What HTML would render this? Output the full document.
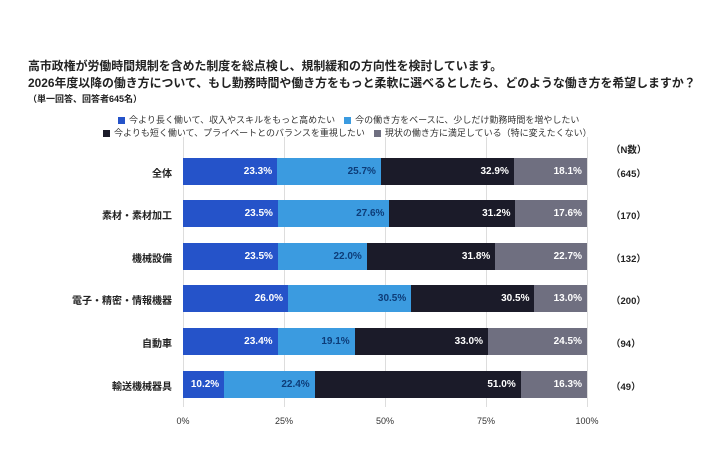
<!DOCTYPE html>
<html><head><meta charset="utf-8"><style>
body{margin:0;width:710px;height:474px;background:#fff;font-family:"Liberation Sans","Noto Sans CJK JP",sans-serif;position:relative;overflow:hidden}
.t{position:absolute;left:28px;font-weight:bold;color:#222;white-space:nowrap}
.lg{position:absolute;font-size:9px;color:#333;white-space:nowrap}
.sq{display:inline-block;width:7px;height:7px;margin-right:4px;vertical-align:-1px}
.row{position:absolute;left:183px;width:404px;height:27px;display:flex}
.seg{height:100%;font-size:10px;color:#fff;text-align:right;box-sizing:border-box;padding-right:5px;line-height:27px;font-weight:bold}
.c1{background:#2553c9}.c2{background:#3b9be0;color:#0d3c78}.c3{background:#1b1b29}.c4{background:#6f6f80}
.lab{position:absolute;right:538px;font-size:10px;color:#222;font-weight:bold;white-space:nowrap}
.n{position:absolute;left:611px;font-size:9.5px;color:#222;font-weight:bold}
.g{position:absolute;top:137px;height:270px;width:1px;background:#ddd}
.ax{position:absolute;top:416px;font-size:9px;color:#333;transform:translateX(-50%)}
</style></head><body>
<div class="t" style="top:57px;font-size:11.9px">高市政権が労働時間規制を含めた制度を総点検し、規制緩和の方向性を検討しています。</div>
<div class="t" style="top:74px;font-size:11.9px">2026年度以降の働き方について、もし勤務時間や働き方をもっと柔軟に選べるとしたら、どのような働き方を希望しますか？</div>
<div class="t" style="top:92px;font-size:9px">（単一回答、回答者645名）</div>
<div class="lg" style="left:118px;top:113px"><span class="sq c1"></span>今より長く働いて、収入やスキルをもっと高めたい　<span class="sq c2"></span>今の働き方をベースに、少しだけ勤務時間を増やしたい</div>
<div class="lg" style="left:103px;top:126px"><span class="sq c3"></span>今よりも短く働いて、プライベートとのバランスを重視したい　<span class="sq c4"></span>現状の働き方に満足している（特に変えたくない）</div>
<div class="n" style="top:142px">（N数）</div>
<div class="g" style="left:183px"></div><div class="g" style="left:284px"></div><div class="g" style="left:385px"></div><div class="g" style="left:486px"></div><div class="g" style="left:587px"></div>
<div class="ax" style="left:183px">0%</div><div class="ax" style="left:284px">25%</div><div class="ax" style="left:385px">50%</div><div class="ax" style="left:486px">75%</div><div class="ax" style="left:587px">100%</div>

<div class="lab" style="top:165px">全体</div><div class="n" style="top:166px">（645）</div>
<div class="row" style="top:158px"><div class="seg c1" style="width:23.3%">23.3%</div><div class="seg c2" style="width:25.7%">25.7%</div><div class="seg c3" style="width:32.9%">32.9%</div><div class="seg c4" style="width:18.1%">18.1%</div></div>

<div class="lab" style="top:207px">素材・素材加工</div><div class="n" style="top:208px">（170）</div>
<div class="row" style="top:200px"><div class="seg c1" style="width:23.5%">23.5%</div><div class="seg c2" style="width:27.6%">27.6%</div><div class="seg c3" style="width:31.2%">31.2%</div><div class="seg c4" style="width:17.7%">17.6%</div></div>

<div class="lab" style="top:250px">機械設備</div><div class="n" style="top:251px">（132）</div>
<div class="row" style="top:243px"><div class="seg c1" style="width:23.5%">23.5%</div><div class="seg c2" style="width:22.0%">22.0%</div><div class="seg c3" style="width:31.8%">31.8%</div><div class="seg c4" style="width:22.7%">22.7%</div></div>

<div class="lab" style="top:292px">電子・精密・情報機器</div><div class="n" style="top:293px">（200）</div>
<div class="row" style="top:285px"><div class="seg c1" style="width:26.0%">26.0%</div><div class="seg c2" style="width:30.5%">30.5%</div><div class="seg c3" style="width:30.5%">30.5%</div><div class="seg c4" style="width:13.0%">13.0%</div></div>

<div class="lab" style="top:335px">自動車</div><div class="n" style="top:336px">（94）</div>
<div class="row" style="top:328px"><div class="seg c1" style="width:23.4%">23.4%</div><div class="seg c2" style="width:19.1%">19.1%</div><div class="seg c3" style="width:33.0%">33.0%</div><div class="seg c4" style="width:24.5%">24.5%</div></div>

<div class="lab" style="top:378px">輸送機械器具</div><div class="n" style="top:379px">（49）</div>
<div class="row" style="top:371px"><div class="seg c1" style="width:10.2%">10.2%</div><div class="seg c2" style="width:22.4%">22.4%</div><div class="seg c3" style="width:51.0%">51.0%</div><div class="seg c4" style="width:16.4%">16.3%</div></div>
</body></html>
